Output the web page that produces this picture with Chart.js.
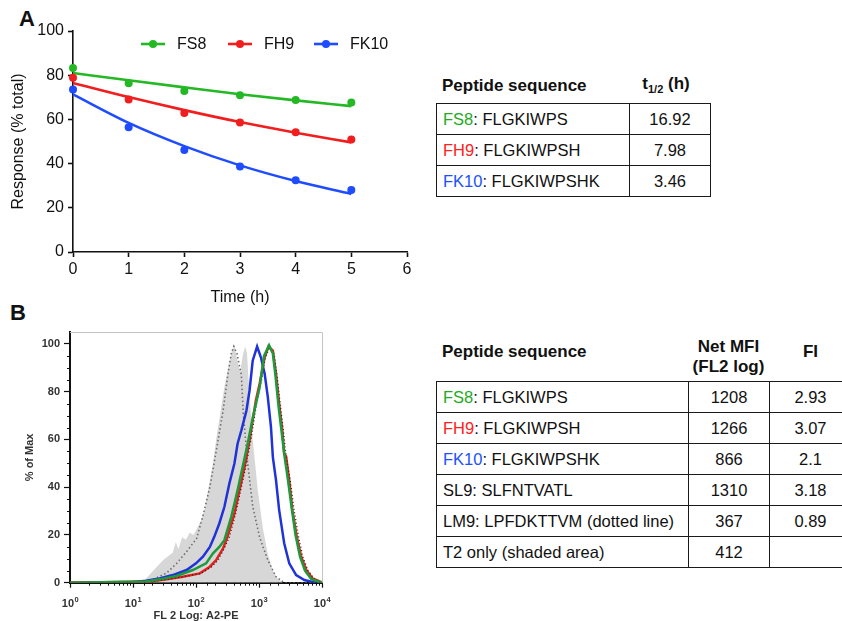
<!DOCTYPE html>
<html><head><meta charset="utf-8">
<script src="https://cdn.jsdelivr.net/npm/chart.js@4.4.1/dist/chart.umd.min.js"></script>
<style>
html,body{margin:0;padding:0;background:#fff;width:842px;height:621px;overflow:hidden;font-family:"Liberation Sans",Arial,sans-serif;color:#111;}
.abs{position:absolute;}
.lbl{font-weight:bold;font-size:22px;line-height:22px;color:#111;}
.hdr{font-weight:bold;font-size:17px;line-height:20px;white-space:nowrap;}
table{border-collapse:collapse;font-size:16.5px;color:#111;table-layout:fixed;}
td{border:1.5px solid #1a1a1a;padding:0 0 0 6px;white-space:nowrap;}
td.c{text-align:center;padding:0;}
tr{height:31px;}
</style>
</head><body>
<div class="abs lbl" style="left:19px;top:8px;">A</div>
<div class="abs lbl" style="left:10px;top:302px;">B</div>
<div class="abs" style="left:0;top:0;"><canvas id="ca" width="420" height="310"></canvas></div>
<div class="abs" style="left:0;top:316px;"><canvas id="cb" width="340" height="310"></canvas></div>

<div class="abs hdr" style="left:442px;top:76px;">Peptide sequence</div>
<div class="abs hdr" style="left:630px;top:74px;width:72px;text-align:center">t<span style="font-size:11px;position:relative;top:4px;">1/2</span> (h)</div>
<table class="abs" id="t1" style="left:436px;top:103px;width:274px">
<colgroup><col style="width:193px"><col style="width:81px"></colgroup><tbody></tbody></table>

<div class="abs hdr" style="left:442px;top:342px;">Peptide sequence</div>
<div class="abs hdr" style="left:688px;top:337px;width:81px;text-align:center">Net MFI<br>(FL2 log)</div>
<div class="abs hdr" style="left:770px;top:342px;width:81px;text-align:center">FI</div>
<table class="abs" id="t2" style="left:436px;top:381px;width:415px">
<colgroup><col style="width:252px"><col style="width:81px"><col style="width:82px"></colgroup><tbody></tbody></table>

<script>
// ---------- Panel A data ----------
const timeH = [0, 1, 2, 3, 4, 5];
const fs8Resp = [83.3, 76.4, 72.9, 70.9, 68.8, 67.6];
const fh9Resp = [78.8, 69.0, 62.9, 58.6, 54.2, 50.9];
const fk10Resp = [73.5, 56.5, 46.1, 38.7, 32.5, 28.0];
const fitTime = [0, 1, 2, 3, 4, 5];
const fs8Fit = [81.0, 77.7, 74.5, 71.4, 68.6, 66.0];
const fh9Fit = [76.5, 70.1, 64.2, 58.8, 54.0, 49.6];
const fk10Fit = [71.3, 58.4, 47.9, 39.2, 32.1, 26.3];
const seriesNames = ['FS8', 'FH9', 'FK10'];
const xTicksA = [0, 1, 2, 3, 4, 5, 6];
const yTicksA = [0, 20, 40, 60, 80, 100];

// ---------- Panel A table ----------
const peptidesA = ['FLGKIWPS', 'FLGKIWPSH', 'FLGKIWPSHK'];
const halfLives = ['16.92', '7.98', '3.46'];

// ---------- Panel B data (x as log10 of FL2 intensity, y as % of max) ----------
const t2Log = [0, 1.10, 1.20, 1.32, 1.48, 1.63, 1.68, 1.72, 1.78, 1.84, 1.90, 1.96, 2.02, 2.08, 2.14, 2.20, 2.27, 2.32, 2.38, 2.45, 2.52, 2.57, 2.61, 2.66, 2.70, 2.74, 2.78, 2.81, 2.85, 2.90, 2.98, 3.06, 3.14, 3.22, 3.30, 3.38, 4];
const t2Pct = [0, 0, 1.5, 5, 9.5, 12.5, 17, 14, 19, 18, 21, 20, 23, 26, 31, 40, 50, 60, 70, 82, 91, 97, 99, 93, 88, 95, 99, 96, 78, 60, 39, 23, 12, 5, 1.5, 0, 0];
const lm9Log = [0, 1.20, 1.37, 1.53, 1.69, 1.85, 2.01, 2.11, 2.22, 2.32, 2.43, 2.51, 2.56, 2.60, 2.65, 2.72, 2.75, 2.82, 2.90, 3.01, 3.14, 3.27, 3.40, 4];
const lm9Pct = [0, 0, 2, 4, 8, 13, 18.5, 28, 40, 55, 72, 88, 96, 99, 96, 87, 71, 50, 32, 19, 9.5, 2.5, 0, 0];
const fk10Log = [0, 1.00, 1.21, 1.42, 1.63, 1.85, 2.00, 2.11, 2.22, 2.29, 2.37, 2.45, 2.53, 2.61, 2.66, 2.72, 2.80, 2.85, 2.90, 2.97, 3.03, 3.09, 3.14, 3.19, 3.22, 3.27, 3.32, 3.40, 3.48, 3.59, 3.72, 3.85, 4];
const fk10Pct = [0, 0.3, 0.8, 1.8, 3.2, 5.3, 8.1, 10.9, 15, 19.2, 24.8, 31.7, 41.6, 49.9, 58.2, 63.8, 72, 80.5, 93, 98.9, 94.4, 87.5, 77.7, 65.2, 52.6, 42.9, 30.4, 16.5, 8.1, 3.2, 1.1, 0.3, 0];
const fh9Log = [0, 1.27, 1.53, 1.79, 2.06, 2.22, 2.32, 2.43, 2.50, 2.61, 2.69, 2.77, 2.85, 2.90, 2.95, 3.01, 3.09, 3.15, 3.22, 3.27, 3.32, 3.37, 3.40, 3.43, 3.48, 3.53, 3.60, 3.67, 3.75, 3.85, 3.98, 4];
const fh9Pct = [0, 0.5, 1.4, 2.5, 3.9, 6.7, 9.5, 14.4, 19.2, 29, 38.7, 48.5, 59.6, 68, 76.3, 83.3, 94.4, 98.9, 97.2, 87.5, 74.9, 63.8, 54, 53, 42.9, 30.4, 19.2, 10.9, 5.3, 1.8, 0.3, 0];
const fs8Log = [0, 1.21, 1.42, 1.69, 1.95, 2.16, 2.27, 2.37, 2.45, 2.56, 2.66, 2.74, 2.82, 2.90, 3.01, 3.08, 3.16, 3.22, 3.26, 3.31, 3.36, 3.40, 3.46, 3.52, 3.58, 3.65, 3.73, 3.83, 3.96, 4];
const fs8Pct = [0, 0.5, 1.4, 2.8, 5.3, 8.1, 12.3, 15, 17.8, 27.6, 38.7, 48.5, 58.2, 69, 81.9, 95, 99.5, 96, 87, 74, 63, 54, 43, 31, 20, 11, 5, 1.5, 0.3, 0];
const sl9Log = [0, 1.30, 1.55, 1.80, 2.08, 2.25, 2.35, 2.45, 2.53, 2.63, 2.71, 2.79, 2.87, 2.92, 2.97, 3.03, 3.10, 3.16, 3.24, 3.29, 3.34, 3.39, 3.43, 3.50, 3.56, 3.63, 3.70, 3.78, 3.88, 4];
const sl9Pct = [0, 0.5, 1.4, 2.5, 3.9, 6.7, 9.5, 14.4, 19.2, 29, 38.7, 48.5, 59.6, 68, 76.3, 83.3, 94.4, 98, 96, 86, 74, 63, 53, 42, 30, 19, 10.5, 5, 1.5, 0];
const decadeExps = [0, 1, 2, 3, 4];
const yTicksB = [0, 20, 40, 60, 80, 100];

// ---------- Panel B table ----------
const peptidesB = [['FS8', 'FLGKIWPS'], ['FH9', 'FLGKIWPSH'], ['FK10', 'FLGKIWPSHK'], ['SL9', 'SLFNTVATL'], ['LM9', 'LPFDKTTVM (dotted line)'], ['T2 only (shaded area)', '']];
const netMfi = ['1208', '1266', '866', '1310', '367', '412'];
const foldInc = ['2.93', '3.07', '2.1', '3.18', '0.89', ''];

const colA = ['#25b825', '#f01e1e', '#1f4cff'];
const colTxt = ['#22aa22', '#ff2020', '#2050ff'];
const FONT = '"Liberation Sans", Arial, sans-serif';
Chart.defaults.font.family = FONT;
Chart.defaults.color = '#111';

// build tables
(function(){
  const b1 = document.querySelector('#t1 tbody');
  peptidesA.forEach((p, i) => {
    const tr = document.createElement('tr');
    tr.innerHTML = '<td><span style="color:' + colTxt[i] + '">' + seriesNames[i] + '</span>: ' + p + '</td><td class="c">' + halfLives[i] + '</td>';
    b1.appendChild(tr);
  });
  const b2 = document.querySelector('#t2 tbody');
  peptidesB.forEach((p, i) => {
    const tr = document.createElement('tr');
    const name = i < 3 ? '<span style="color:' + colTxt[i] + '">' + p[0] + '</span>' : p[0];
    tr.innerHTML = '<td>' + name + (p[1] ? ': ' + p[1] : '') + '</td><td class="c">' + netMfi[i] + '</td><td class="c">' + foldInc[i] + '</td>';
    b2.appendChild(tr);
  });
})();

// ---------- Chart A ----------
const fitsA = [fs8Fit, fh9Fit, fk10Fit];
const respA = [fs8Resp, fh9Resp, fk10Resp];
const dsA = [];
seriesNames.forEach((n, i) => {
  dsA.push({ type: 'line', label: n + ' fit', data: fitTime.map((t, j) => ({ x: t, y: fitsA[i][j] })),
    borderColor: colA[i], borderWidth: 2.6, pointRadius: 0, cubicInterpolationMode: 'monotone', clip: false, order: 2 });
  dsA.push({ type: 'scatter', label: n, data: timeH.map((t, j) => ({ x: t, y: respA[i][j] })),
    backgroundColor: colA[i], borderWidth: 0, pointRadius: 4, showLine: false, clip: false, order: 1 });
});

const legendA = {
  id: 'legendA',
  afterDraw(chart) {
    const ctx = chart.ctx;
    const items = [{ x: 141, c: colA[0], t: seriesNames[0] }, { x: 228, c: colA[1], t: seriesNames[1] }, { x: 314, c: colA[2], t: seriesNames[2] }];
    const yL = 44;
    ctx.save();
    items.forEach(it => {
      ctx.strokeStyle = it.c; ctx.lineWidth = 2.6;
      ctx.beginPath(); ctx.moveTo(it.x, yL); ctx.lineTo(it.x + 24, yL); ctx.stroke();
      ctx.fillStyle = it.c; ctx.beginPath(); ctx.arc(it.x + 12, yL, 4, 0, Math.PI * 2); ctx.fill();
      ctx.fillStyle = '#111'; ctx.font = '16px ' + FONT; ctx.textBaseline = 'middle';
      ctx.fillText(it.t, it.x + 36, yL + 1);
    });
    ctx.restore();
  }
};

new Chart(document.getElementById('ca'), {
  type: 'line',
  data: { datasets: dsA },
  options: {
    responsive: false, animation: false,
    layout: { padding: { left: 9, top: 31, right: 13, bottom: 3 } },
    plugins: { legend: { display: false }, tooltip: { enabled: false } },
    scales: {
      x: { type: 'linear', min: 0, max: 6,
        afterBuildTicks: s => { s.ticks = xTicksA.map(v => ({ value: v })); },
        afterFit: s => { s.height = 55; },
        border: { color: '#111', width: 1.6 },
        grid: { display: true, drawOnChartArea: false, drawTicks: true, tickLength: 5, tickColor: '#111', tickWidth: 1.6 },
        ticks: { font: { size: 16 }, color: '#111', padding: 3, maxRotation: 0 },
        title: { display: true, text: 'Time (h)', font: { size: 16 }, color: '#111', padding: 0 } },
      y: { type: 'linear', min: 0, max: 100,
        afterBuildTicks: s => { s.ticks = yTicksA.map(v => ({ value: v })); },
        afterFit: s => { s.width = 64; },
        border: { color: '#111', width: 1.6 },
        grid: { display: true, drawOnChartArea: false, drawTicks: true, tickLength: 5, tickColor: '#111', tickWidth: 1.6 },
        ticks: { font: { size: 16 }, color: '#111', padding: 4 },
        title: { display: true, text: 'Response (% total)', font: { size: 16 }, color: '#111', padding: 0 } }
    }
  },
  plugins: [legendA]
});

// ---------- Chart B ----------
const toPts = (lx, py) => lx.map((v, i) => ({ x: Math.pow(10, v), y: py[i] }));
const dsB = [
  { label: 'T2 only', data: toPts(t2Log, t2Pct), fill: 'origin', backgroundColor: '#d7d7d7', borderColor: 'rgba(0,0,0,0)', borderWidth: 0, pointRadius: 0, order: 10 },
  { label: 'LM9', data: toPts(lm9Log, lm9Pct), borderColor: '#6e6e6e', borderWidth: 1.6, borderDash: [1.5, 2.5], pointRadius: 0, order: 9 },
  { label: 'FK10', data: toPts(fk10Log, fk10Pct), borderColor: '#1f33d8', borderWidth: 2.5, pointRadius: 0, order: 6 },
  { label: 'FH9', data: toPts(fh9Log, fh9Pct), borderColor: '#e3211c', borderWidth: 2.5, pointRadius: 0, order: 5 },
  { label: 'SL9', data: toPts(sl9Log, sl9Pct), borderColor: '#222', borderWidth: 1.3, borderDash: [1, 2.5], pointRadius: 0, order: 4 },
  { label: 'FS8', data: toPts(fs8Log, fs8Pct), borderColor: '#1c9a3c', borderWidth: 2.5, pointRadius: 0, order: 3 }
];
const isDecade = v => Math.abs(Math.log10(v) - Math.round(Math.log10(v))) < 1e-9;

const flowDecor = {
  id: 'flowDecor',
  afterDraw(chart) {
    const { ctx, chartArea: a, scales: { x, y } } = chart;
    ctx.save();
    ctx.strokeStyle = '#c4c4c4'; ctx.lineWidth = 1;
    ctx.beginPath(); ctx.moveTo(a.left, a.top + 0.5); ctx.lineTo(a.right + 0.5, a.top + 0.5); ctx.lineTo(a.right + 0.5, a.bottom); ctx.stroke();
    ctx.strokeStyle = '#111'; ctx.lineWidth = 1;
    x.ticks.forEach(t => { if (!isDecade(t.value)) { const px = Math.round(x.getPixelForValue(t.value)) + 0.5; ctx.beginPath(); ctx.moveTo(px, a.bottom); ctx.lineTo(px, a.bottom + 3); ctx.stroke(); } });
    y.ticks.forEach(t => { if (t.value % 20 !== 0) { const py = Math.round(y.getPixelForValue(t.value)) + 0.5; ctx.beginPath(); ctx.moveTo(a.left - 3, py); ctx.lineTo(a.left, py); ctx.stroke(); } });
    ctx.fillStyle = '#333'; ctx.textBaseline = 'alphabetic'; ctx.textAlign = 'left';
    decadeExps.forEach(n => {
      const px = x.getPixelForValue(Math.pow(10, n));
      ctx.font = 'bold 11px ' + FONT; const w1 = ctx.measureText('10').width;
      ctx.font = 'bold 7.5px ' + FONT; const w2 = ctx.measureText(String(n)).width;
      const start = px - (w1 + w2) / 2;
      ctx.font = 'bold 11px ' + FONT; ctx.fillText('10', start, 291);
      ctx.font = 'bold 7.5px ' + FONT; ctx.fillText(String(n), start + w1 + 0.5, 285.5);
    });
    ctx.restore();
  }
};

new Chart(document.getElementById('cb'), {
  type: 'line',
  data: { datasets: dsB },
  options: {
    responsive: false, animation: false,
    layout: { padding: { left: 23, top: 16, right: 18, bottom: 3.4 } },
    plugins: { legend: { display: false }, tooltip: { enabled: false } },
    elements: { line: { tension: 0 } },
    scales: {
      x: { type: 'logarithmic', min: 1, max: 10000,
        afterFit: s => { s.height = 39.9; },
        border: { color: '#111', width: 2 },
        grid: { display: true, drawOnChartArea: false, drawTicks: true, tickLength: 5, tickWidth: 1.2,
          tickColor: c => (c.tick && isDecade(c.tick.value)) ? '#111' : 'rgba(0,0,0,0)' },
        ticks: { autoSkip: false, maxRotation: 0, font: { size: 11 }, callback: () => '' },
        title: { display: true, text: 'FL 2 Log: A2-PE', font: { size: 11, weight: 'bold' }, color: '#333', padding: 0 } },
      y: { type: 'linear', min: 0, max: 105,
        afterBuildTicks: s => { const t = []; for (let v = 0; v <= 100; v += 5) t.push({ value: v }); s.ticks = t; },
        afterFit: s => { s.width = 47; },
        border: { color: '#111', width: 2 },
        grid: { display: true, drawOnChartArea: false, drawTicks: true, tickLength: 6, tickWidth: 1.2,
          tickColor: c => (c.tick && c.tick.value % 20 === 0) ? '#111' : 'rgba(0,0,0,0)' },
        ticks: { font: { size: 11, weight: 'bold' }, color: '#333', padding: 4, autoSkip: false,
          callback: v => (yTicksB.indexOf(v) >= 0 ? String(v) : '') },
        title: { display: true, text: '% of Max', font: { size: 11, weight: 'bold' }, color: '#333', padding: 0 } }
    }
  },
  plugins: [flowDecor]
});
</script>
</body></html>
